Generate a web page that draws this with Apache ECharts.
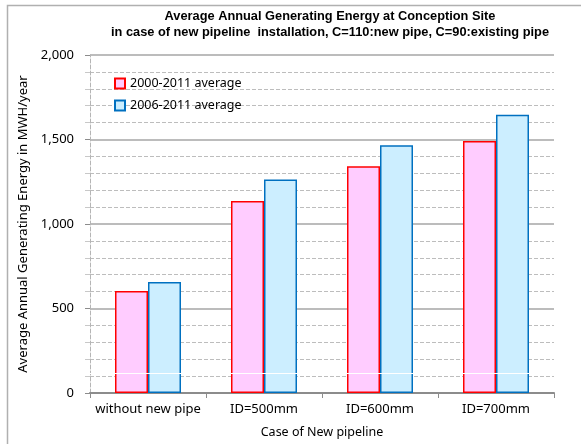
<!DOCTYPE html>
<html>
<head>
<meta charset="utf-8">
<script src="https://cdn.jsdelivr.net/npm/echarts@6/dist/echarts.min.js"></script>
<style>
html,body{margin:0;padding:0;background:#fff}
#main{width:581px;height:444px}
</style>
</head>
<body>
<div id="main"></div>
<script>
// data
var categories = ["without new pipe", "ID=500mm", "ID=600mm", "ID=700mm"];
var avg2000_2011 = [604, 1136, 1342, 1491];
var avg2006_2011 = [657, 1264, 1466, 1647];
var seriesNames = ["2000-2011 average", "2006-2011 average"];

var font = "'Noto Sans', sans-serif";

var chart = echarts.init(document.getElementById("main"));

var option = {
    backgroundColor: "#fff",
    animation: false,
    title: {
        text: "Average Annual Generating Energy at Conception Site\nin case of new pipeline  installation, C=110:new pipe, C=90:existing pipe",
        left: 325,
        textAlign: "center",
        top: 3,
        textStyle: {
            fontFamily: "'Liberation Sans', Arial, sans-serif",
            fontSize: 12.8,
            fontWeight: "bold",
            color: "#000",
            lineHeight: 16
        }
    },
    graphic: [
        {   // outer chart frame, only top/left visible
            type: "rect",
            shape: {x: 7.5, y: 5.5, width: 700, height: 600},
            style: {fill: null, stroke: "#b0b0b0", lineWidth: 1.5},
            silent: true
        }
    ],
    grid: {
        left: 90,
        right: 27,
        top: 55,
        bottom: 48
    },
    legend: {
        orient: "vertical",
        left: 109,
        top: 72,
        itemWidth: 10,
        itemHeight: 10,
        itemGap: 9,
        icon: "rect",
        data: seriesNames,
        textStyle: {
            fontFamily: font,
            fontSize: 12.5,
            color: "#000"
        }
    },
    xAxis: {
        type: "category",
        data: categories,
        name: "Case of New pipeline",
        nameLocation: "middle",
        nameGap: 33,
        nameTextStyle: {fontFamily: font, fontSize: 12.5, color: "#000"},
        axisLine: {lineStyle: {color: "#8c8c8c", width: 2}},
        axisTick: {show: true, length: 5, lineStyle: {color: "#8c8c8c"}},
        axisLabel: {interval: 0, fontFamily: font, fontSize: 13, color: "#000", margin: 10}
    },
    yAxis: {
        type: "value",
        min: 0,
        max: 2000,
        interval: 500,
        name: "Average Annual Generating Energy in MWH/year",
        nameLocation: "middle",
        nameGap: 58,
        nameTextStyle: {fontFamily: font, fontSize: 13, color: "#000"},
        axisLine: {show: true, lineStyle: {color: "#b5b5b5", type: "dashed", width: 1}},
        axisTick: {show: true, length: 5, lineStyle: {color: "#8c8c8c"}},
        minorTick: {show: true, splitNumber: 5, length: 5, lineStyle: {color: "#c8c8c8"}},
        axisLabel: {
            fontFamily: font,
            fontSize: 13,
            color: "#000",
            margin: 16,
            formatter: function (v) { return v.toLocaleString("en-US"); }
        },
        splitLine: {show: true, lineStyle: {color: "#a6a6a6", width: 1.5}},
        minorSplitLine: {show: true, lineStyle: {color: "#bdbdbd", type: [4, 2], width: 1}}
    },
    series: [
        {
            name: seriesNames[0],
            type: "bar",
            data: avg2000_2011,
            barWidth: 33,
            barGap: "0%",
            itemStyle: {color: "#ffccff", borderColor: "#ff0000", borderWidth: 1.5}
        },
        {
            name: seriesNames[1],
            type: "bar",
            z: 3,
            data: avg2006_2011,
            barWidth: 33,
            barGap: "0%",
            itemStyle: {color: "#cceeff", borderColor: "#0070c0", borderWidth: 1.5},
            markLine: {
                silent: true,
                z: 10,
                symbol: "none",
                label: {show: false},
                lineStyle: {color: "#ffffff", type: "solid", width: 1, opacity: 1},
                data: [{yAxis: 116}]
            }
        }
    ]
};

chart.setOption(option);
</script>
</body>
</html>
